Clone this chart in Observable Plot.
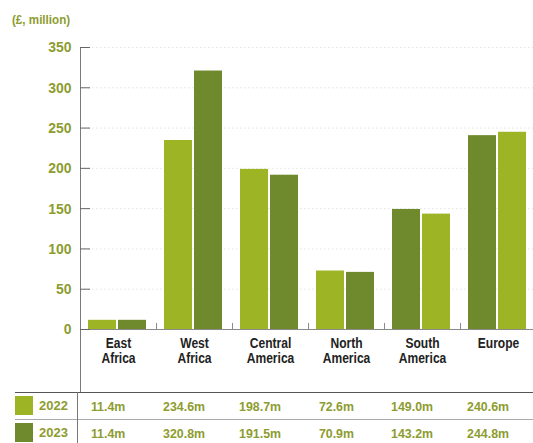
<!DOCTYPE html>
<html><head><meta charset="utf-8">
<script src="https://cdn.jsdelivr.net/npm/d3@7"></script>
<script src="https://cdn.jsdelivr.net/npm/@observablehq/plot@0.6"></script>
<style>
html,body{margin:0;padding:0;background:#fff;}
#wrap{position:relative;width:533px;height:443px;overflow:hidden;background:#fff;
  font-family:"Liberation Sans","Arimo",Arial,sans-serif;font-weight:bold;}
#title{position:absolute;left:12px;top:13px;font-size:12.5px;color:#8d9c2f;transform:scaleX(0.93);transform-origin:left center;}
#chart{position:absolute;left:0;top:0;}
#table{position:absolute;left:15px;top:392px;border-collapse:collapse;table-layout:fixed;color:#8d9c2f;font-size:13px;}
#table td{padding:0;white-space:nowrap;}
#table tr.r1 td{border-top:1.5px solid #555;height:26px;}
#table tr.r2 td{border-top:1px solid #aaa;height:26px;}
#table td.yr{border-right:1px solid #777;text-align:left;}
#table td.val{text-align:center;padding-right:14px;}
.sw{display:inline-block;width:18px;height:19px;vertical-align:middle;margin-right:6px;position:relative;top:-1px;}
.num{display:inline-block;transform:scaleX(0.95);}
</style></head><body>
<div id="wrap"><div id="chart"></div><div id="title">(£, million)</div><table id="table"></table></div>
<script>
const regions = ["East Africa","West Africa","Central America","North America","South America","Europe"];
const regionLabels = ["East\nAfrica","West\nAfrica","Central\nAmerica","North\nAmerica","South\nAmerica","Europe"];
const years = ["2022","2023"];
const values2022 = [11.4,234.6,198.7,72.6,149.0,240.6];
const values2023 = [11.4,320.8,191.5,70.9,143.2,244.8];
const yTicks = [0,50,100,150,200,250,300,350];
// regions where the reference picture shows the two shades the other way round
const swappedShade = ["South America","Europe"];

const light = "#9db424", dark = "#6e8a2d", olive = "#8d9c2f";
const fontFamily = '"Liberation Sans","Arimo",Arial,sans-serif';
const valuesByYear = {"2022": values2022, "2023": values2023};

const rows = regions.flatMap((r, i) => years.map(y => ({region: r, year: y, value: valuesByYear[y][i]})));
const shade = d => swappedShade.includes(d.region) ? years[1 - years.indexOf(d.year)] : d.year;

const H = 392, MT = 47, MB = 63;
const chart = Plot.plot({
  width: 533, height: H, marginTop: MT, marginBottom: MB, marginLeft: 77, marginRight: -5,
  style: {fontFamily, fontWeight: "bold", background: "transparent", overflow: "visible"},
  fx: {domain: regions, padding: 0, label: null},
  x: {domain: years, axis: null, paddingInner: 0.07, paddingOuter: 0.28, align: 0.45},
  y: {domain: [0, 350], axis: null},
  color: {domain: years, range: [light, dark]},
  marks: [
    Plot.gridY(yTicks.slice(1), {stroke: "#e3e3e3", strokeOpacity: 1, strokeDasharray: "1.5,2.5"}),
    Plot.barY(rows, {fx: "region", x: "year", y: "value", fill: shade}),
    Plot.ruleY([0], {stroke: "#8a8a8a", strokeWidth: 1.2}),
    Plot.frame({anchor: "right", stroke: "#8a8a8a", insetTop: H - MT - MB - 6}),
    Plot.frame({anchor: "left", facetAnchor: "left", stroke: "#7a7a7a", insetBottom: -MB}),
    Plot.axisY(yTicks, {anchor: "left", tickSize: -10, tickPadding: 19, fill: olive, stroke: "#666", fontSize: 15.5, label: null}),
    Plot.axisFx({anchor: "bottom", tickSize: 0, tickPadding: 8, lineAnchor: "top", lineHeight: 1.08, fontSize: 14, fill: "#222",
      tickFormat: d => regionLabels[regions.indexOf(d)], label: null})
  ]
});
document.getElementById("chart").appendChild(chart);

// narrow the bold sans to mimic the condensed face of the reference
function condense(sel, k) {
  chart.querySelectorAll(sel).forEach(t => {
    const spans = t.querySelectorAll("tspan");
    (spans.length ? Array.from(spans) : [t]).forEach(e => {
      const L = e.getComputedTextLength();
      e.setAttribute("textLength", L * k);
      e.setAttribute("lengthAdjust", "spacingAndGlyphs");
    });
  });
}
condense('g[aria-label="y-axis tick label"] text', 0.9);
condense('g[aria-label="fx-axis tick label"] text', 0.86);

// table below the chart, columns aligned with the fx scale
const fx = chart.scale("fx");
const colW = fx.bandwidth;
const table = document.getElementById("table");
const cg = document.createElement("colgroup");
cg.innerHTML = `<col style="width:62px">` + regions.map(() => `<col style="width:${colW}px">`).join("");
table.appendChild(cg);
const colours = {"2022": light, "2023": dark};
const tbody = document.createElement("tbody");
years.forEach((y, i) => {
  const tr = document.createElement("tr");
  tr.className = "r" + (i + 1);
  tr.innerHTML = `<td class="yr"><span class="sw" style="background:${colours[y]}"></span>${y}</td>` +
    valuesByYear[y].map(v => `<td class="val"><span class="num">${v.toFixed(1)}m</span></td>`).join("");
  tbody.appendChild(tr);
});
table.appendChild(tbody);
</script>
</body></html>
